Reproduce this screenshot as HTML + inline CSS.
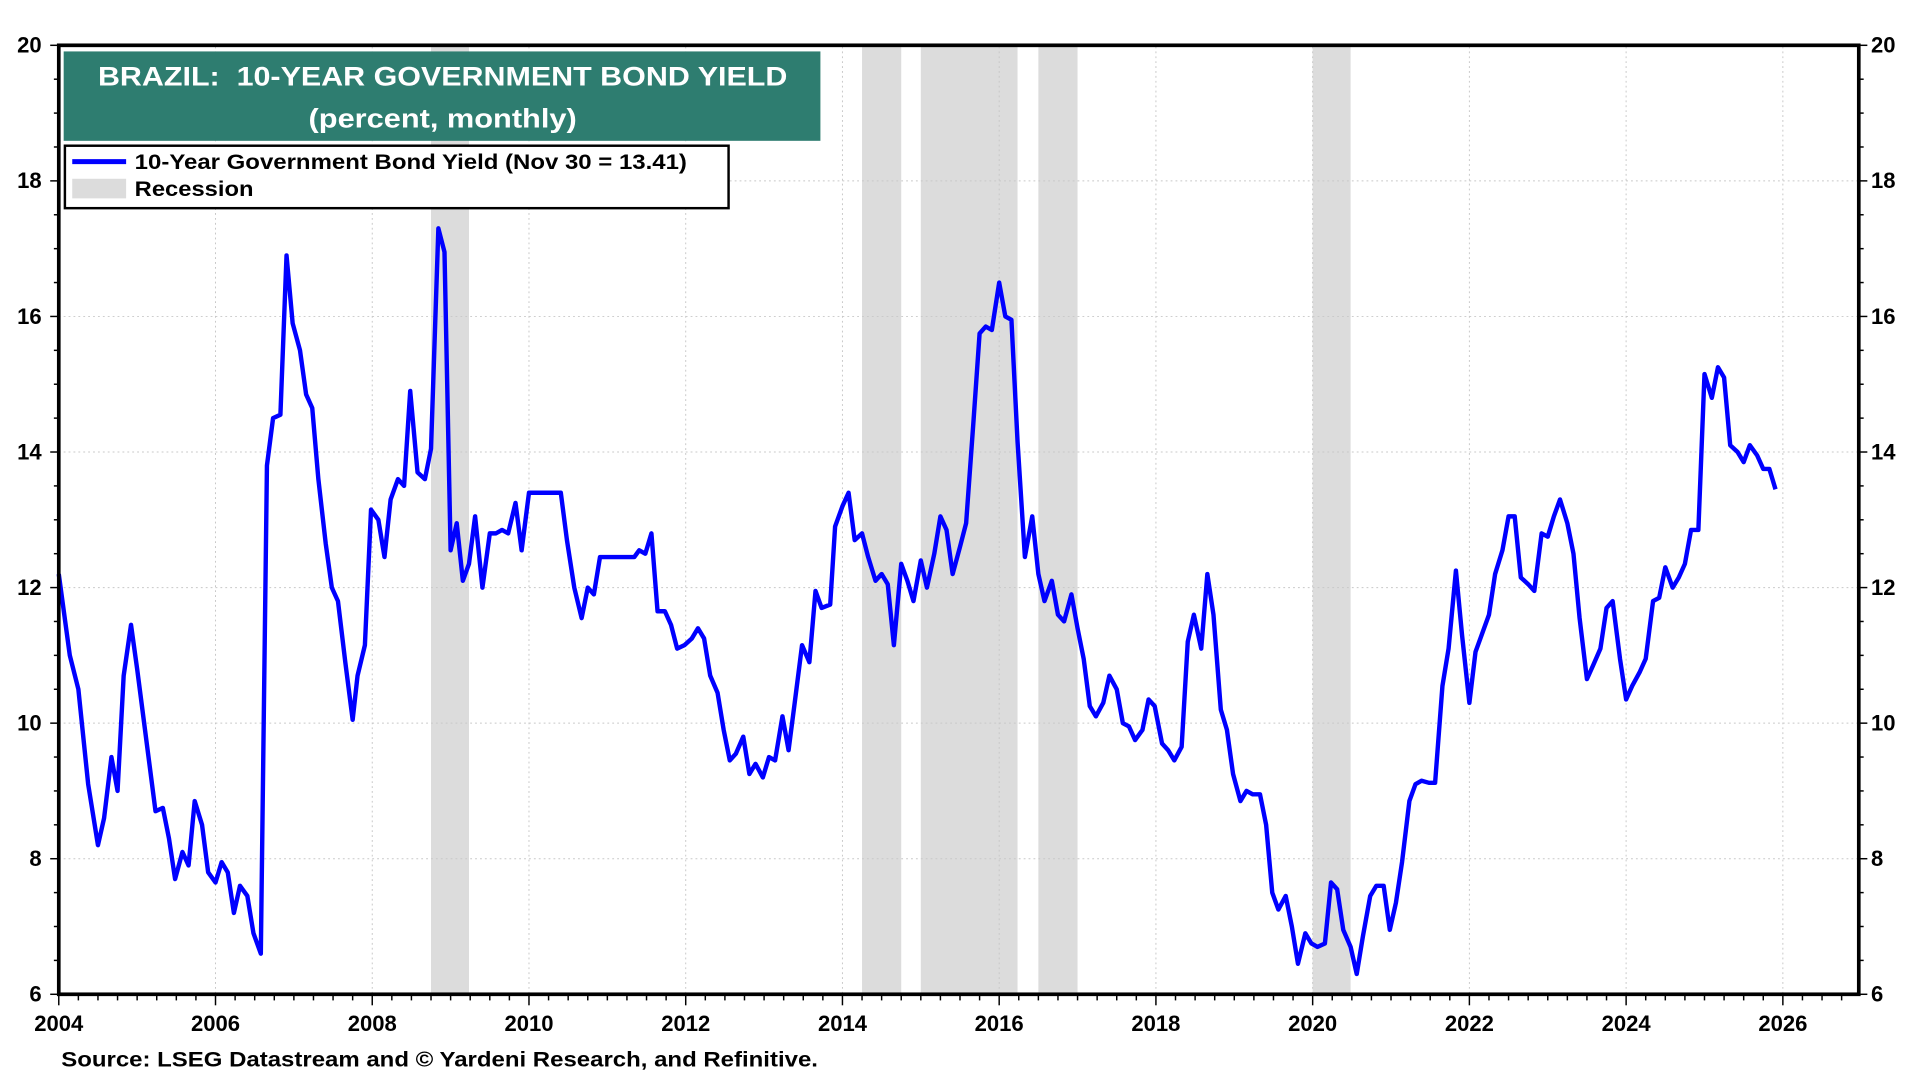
<!DOCTYPE html>
<html><head><meta charset="utf-8"><style>
html,body{margin:0;padding:0;background:#fff;}
svg{display:block;font-family:"Liberation Sans",Arial,sans-serif;font-weight:bold;}
</style></head><body>
<svg id="c" width="1920" height="1080" viewBox="0 0 1568 882" preserveAspectRatio="none" xmlns="http://www.w3.org/2000/svg">
<g id="rec" fill="#dcdcdc"></g>
<g id="grid" stroke="#c8c8c8" stroke-width="0.8" stroke-dasharray="1.5,2.5"></g>
<g id="ticks" stroke="#000" stroke-width="1.2"></g>
<polyline id="line" fill="none" stroke="#0000ff" stroke-width="3.6" stroke-linejoin="round"/>
<rect x="48" y="37" width="1470" height="775" fill="none" stroke="#000" stroke-width="3"/>
<g id="labels" font-size="18"></g>
<rect x="52" y="42" width="618" height="73" fill="#2e7d70"/>
<text x="80" y="70" fill="#fff" font-size="22" textLength="563" lengthAdjust="spacingAndGlyphs">BRAZIL:&#160; 10-YEAR GOVERNMENT BOND YIELD</text>
<text x="252" y="104" fill="#fff" font-size="22" textLength="219" lengthAdjust="spacingAndGlyphs">(percent, monthly)</text>
<rect x="53" y="119" width="542" height="51" fill="#fff" stroke="#000" stroke-width="2"/>
<line x1="59" y1="132" x2="103" y2="132" stroke="#0000ff" stroke-width="4"/>
<rect x="59" y="146" width="44" height="16" fill="#dcdcdc"/>
<text x="110" y="138" font-size="17.5" textLength="451" lengthAdjust="spacingAndGlyphs">10-Year Government Bond Yield (Nov 30 = 13.41)</text>
<text x="110" y="160" font-size="17.5" textLength="97" lengthAdjust="spacingAndGlyphs">Recession</text>
<text x="50" y="871" font-size="17.5" textLength="618" lengthAdjust="spacingAndGlyphs">Source: LSEG Datastream and © Yardeni Research, and Refinitive.</text>
</svg>
<script>
var NS="http://www.w3.org/2000/svg";
function el(p,t,a,txt){var e=document.createElementNS(NS,t);for(var k in a)e.setAttribute(k,a[k]);if(txt!==undefined)e.textContent=txt;document.getElementById(p).appendChild(e);}
function Y(v){return 812-(v-6)*55.357;}
function X(yr){return 48+(yr-2004)*64;}
[[352,383],[704,736],[752,831],[848,880],[1072,1103]].forEach(function(r){el("rec","rect",{x:r[0],y:38,width:r[1]-r[0],height:773});});
for(var v=8;v<20;v+=2)el("grid","line",{x1:48,x2:1518,y1:Y(v),y2:Y(v)});
for(var yr=2006;yr<=2026;yr+=2)el("grid","line",{x1:X(yr),x2:X(yr),y1:38,y2:812});
for(var v=6;v<=20.01;v+=0.5){var y=Y(v),big=(Math.abs(v%2)<0.01);
el("ticks","line",{x1:48-(big?7:4),x2:48,y1:y,y2:y});el("ticks","line",{x1:1518,x2:1518+(big?7:4),y1:y,y2:y});
if(big){el("labels","text",{x:34,y:y+6,"text-anchor":"end"},String(v));el("labels","text",{x:1528,y:y+6},String(v));}}
for(var q=0;q<=23*4;q++){var x=48+q*16,big=(q%8==0);if(x>1518)break;
el("ticks","line",{x1:x,x2:x,y1:812,y2:812+(big?9:5)});}
for(var yr=2004;yr<=2026;yr+=2)el("labels","text",{x:X(yr),y:842,"text-anchor":"middle"},String(yr));
var d=[48,12.2,57,11.0,64,10.5,72,9.1,80,8.2,85,8.6,91,9.5,96,9.0,101,10.7,107,11.45,112,10.8,117,10.1,127,8.7,133,8.75,138,8.3,143,7.7,149,8.1,154,7.9,159,8.85,165,8.5,170,7.8,176,7.65,181,7.95,186,7.8,191,7.2,196,7.6,202,7.45,207,6.9,213,6.6,218,13.8,223,14.5,229,14.55,234,16.9,239,15.9,245,15.5,250,14.85,255,14.65,260,13.6,266,12.65,271,12.0,276,11.8,282,10.9,288,10.05,292,10.7,298,11.15,303,13.15,309,13.0,314,12.45,319,13.3,325,13.6,330,13.5,335,14.9,341,13.7,347,13.6,352,14.05,358,17.3,363,16.95,368,12.55,373,12.95,378,12.1,383,12.35,388,13.05,394,12.0,400,12.8,405,12.8,410,12.85,415,12.8,421,13.25,426,12.55,432,13.4,458,13.4,463,12.7,469,12.0,475,11.55,480,12.0,485,11.9,490,12.45,518,12.45,522,12.55,527,12.5,532,12.8,537,11.65,543,11.65,548,11.45,553,11.1,559,11.15,565,11.25,570,11.4,575,11.25,580,10.7,586,10.45,591,9.9,596,9.45,601,9.55,607,9.8,612,9.25,617,9.4,623,9.2,628,9.5,633,9.45,639,10.1,644,9.6,649,10.3,655,11.15,661,10.9,666,11.95,671,11.7,678,11.75,682,12.9,688,13.2,693,13.4,698,12.7,704,12.8,709,12.45,715,12.1,720,12.2,725,12.05,730,11.15,736,12.35,741,12.1,746,11.8,752,12.4,757,12.0,763,12.5,768,13.05,773,12.85,778,12.2,784,12.6,789,12.95,795,14.45,800,15.75,805,15.85,810,15.8,816,16.5,821,16.0,826,15.95,831,14.15,837,12.45,843,13.05,848,12.2,853,11.8,859,12.1,864,11.6,869,11.5,875,11.9,880,11.4,885,10.95,890,10.25,895,10.1,901,10.3,906,10.7,912,10.5,917,10.0,922,9.95,927,9.75,933,9.9,938,10.35,943,10.25,949,9.7,954,9.6,959,9.45,965,9.65,970,11.2,975,11.6,981,11.1,986,12.2,991,11.6,997,10.2,1002,9.9,1007,9.25,1013,8.85,1018,9.0,1023,8.95,1029,8.95,1034,8.5,1039,7.5,1044,7.25,1050,7.45,1055,7.0,1060,6.45,1066,6.9,1071,6.75,1076,6.7,1082,6.75,1087,7.65,1092,7.55,1097,6.95,1103,6.7,1108,6.3,1113,6.85,1119,7.45,1124,7.6,1130,7.6,1135,6.95,1140,7.35,1145,7.95,1151,8.85,1156,9.1,1161,9.15,1167,9.12,1172,9.12,1178,10.55,1183,11.1,1189,12.25,1194,11.3,1200,10.3,1205,11.05,1210,11.3,1216,11.6,1221,12.2,1227,12.55,1232,13.05,1237,13.05,1242,12.15,1248,12.05,1253,11.95,1259,12.8,1264,12.75,1269,13.05,1274,13.3,1280,12.95,1285,12.5,1290,11.55,1296,10.65,1301,10.85,1307,11.1,1312,11.7,1317,11.8,1323,10.95,1328,10.35,1333,10.55,1339,10.75,1344,10.95,1350,11.8,1355,11.85,1360,12.3,1366,12.0,1371,12.15,1376,12.35,1381,12.85,1387,12.85,1392,15.15,1398,14.8,1403,15.25,1408,15.1,1413,14.1,1419,14.0,1424,13.85,1429,14.1,1435,13.95,1440,13.75,1445,13.75,1450,13.45];
var pts=[];for(var i=0;i<d.length;i+=2)pts.push(d[i]+","+Y(d[i+1]).toFixed(1));
document.getElementById("line").setAttribute("points",pts.join(" "));
</script>
</body></html>
